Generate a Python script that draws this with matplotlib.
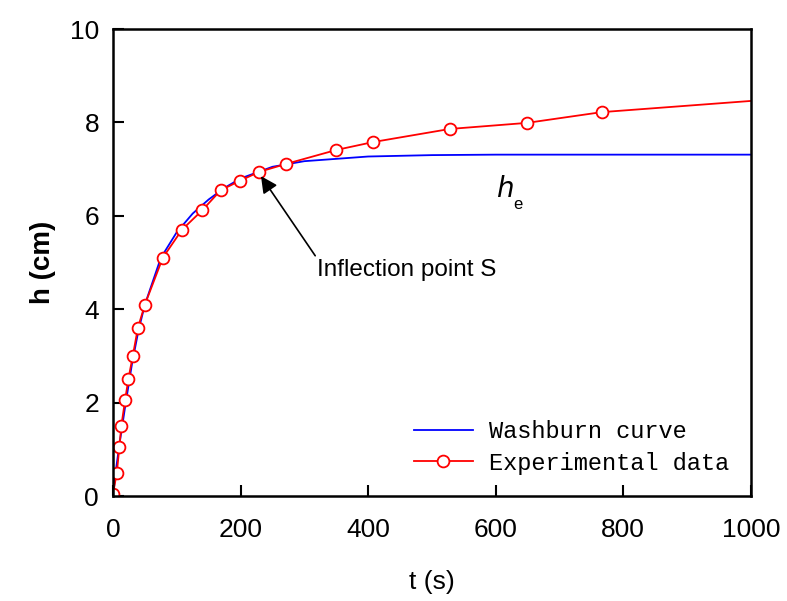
import numpy as np
import matplotlib.pyplot as plt

t_exp = [0, 6, 10, 13, 19, 24, 31, 39, 50, 78, 108, 140, 169, 199, 229,
         271, 350, 408, 528, 649, 766, 1000]
h_exp = [0.05, 0.5, 1.05, 1.5, 2.06, 2.5, 3.0, 3.6, 4.1, 5.1, 5.7, 6.12,
         6.55, 6.75, 6.94, 7.11, 7.41, 7.58, 7.86, 7.99, 8.22, 8.46]
# the last point is the line end only, no marker
n_markers = 21

# Washburn curve
t_wb = [0, 5, 10, 20, 30, 40, 50, 75, 100, 125, 150, 175, 200, 250, 300,
        400, 500, 600, 800, 1000]
h_wb = [0, 0.6, 1.1, 2.0, 2.85, 3.55, 4.1, 5.1, 5.65, 6.05, 6.35, 6.6,
        6.8, 7.05, 7.17, 7.27, 7.30, 7.31, 7.31, 7.31]

plt.rcParams['font.family'] = 'Liberation Sans'

fig = plt.figure(figsize=(7.87, 6.01), dpi=100)
ax = fig.add_axes([0.1436, 0.1747, 0.8104, 0.777])

ax.plot(t_wb, h_wb, color='blue', lw=1.3, label='Washburn curve')
ax.plot(t_exp, h_exp, color='red', lw=1.3, marker='o', markersize=8.5,
        markerfacecolor='white', markeredgecolor='red', markeredgewidth=1.3,
        markevery=list(range(n_markers)), label='Experimental data')

ax.set_xlim(0, 1000)
ax.set_ylim(0, 10)
ax.set_xticks([0, 200, 400, 600, 800, 1000])
ax.set_yticks([0, 2, 4, 6, 8, 10])
ax.tick_params(direction='in', length=8, width=1.5, labelsize=19)
ax.tick_params(axis='x', pad=16)
ax.tick_params(axis='y', pad=10)
for s in ax.spines.values():
    s.set_linewidth(1.8)

ax.set_xlabel('t (s)', fontsize=19, labelpad=20)
ax.set_ylabel('h (cm)', fontsize=20, fontweight='bold', labelpad=10)

ax.annotate('Inflection point S', xy=(232, 6.85), xytext=(320, 4.85),
            fontsize=17.5, va='center',
            arrowprops=dict(arrowstyle='-|>', color='black', lw=1.2,
                            mutation_scale=25, shrinkA=0, shrinkB=0,
                            relpos=(0.0, 1.0)))
ax.text(600, 6.4, r'$h$', fontsize=20, style='italic')
ax.text(628, 6.15, 'e', fontsize=12)

ax.legend(loc='lower right', frameon=False, prop={'family': 'Liberation Mono', 'size': 17},
          handlelength=2.5, handletextpad=0.7, borderaxespad=0.5, labelspacing=0.35)

fig.savefig('out.png', dpi=100)
